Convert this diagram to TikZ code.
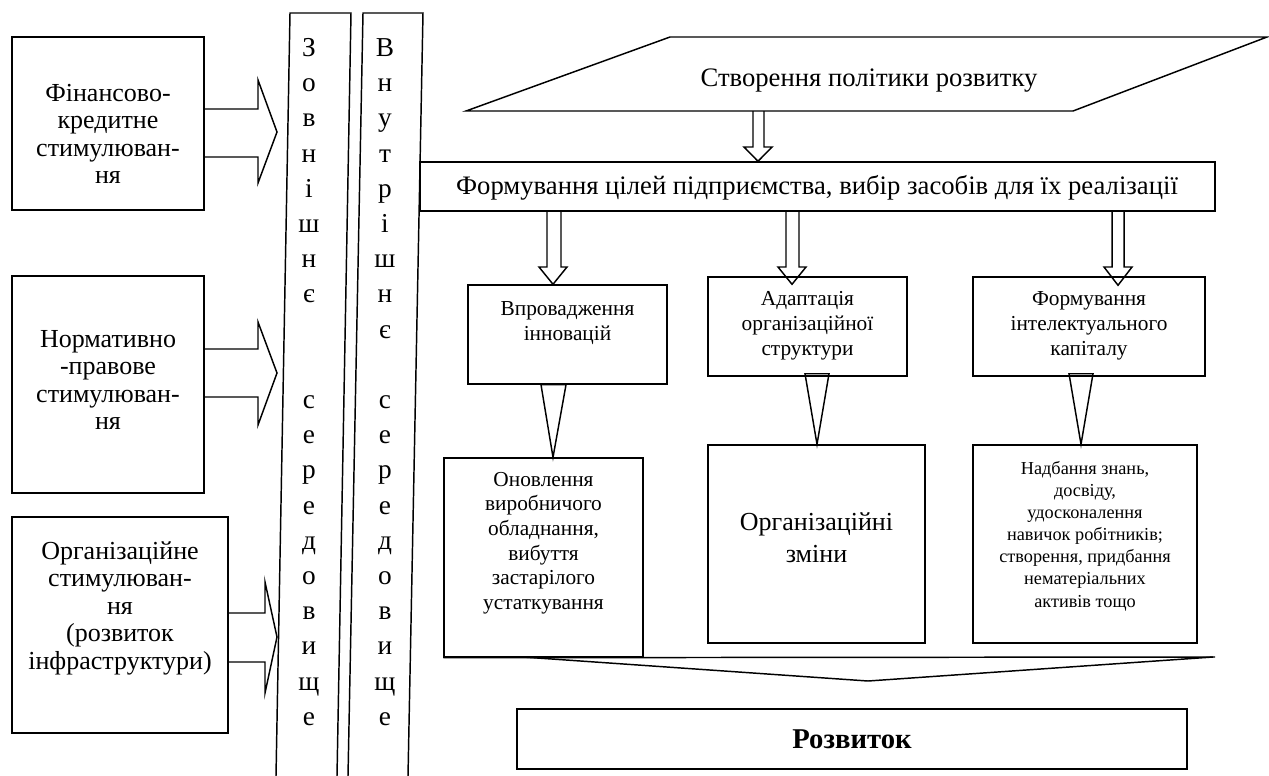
\documentclass[tikz,border=0pt]{standalone}
\usepackage{fontspec}
\setmainfont{Liberation Serif}
\usetikzlibrary{calc}

\begin{document}
\begin{tikzpicture}[x=0.75pt,y=0.75pt,yscale=-1,xscale=1,
  box/.style={draw, line width=1.1pt, inner sep=0pt},
  hollow/.style={draw, line width=1.1pt, line join=miter},
  txt/.style={align=center, inner sep=0.75pt},
  lefttxt/.style={txt, font=\fontsize{19.5}{20.6}\selectfont},
  midtxt/.style={txt, font=\fontsize{16}{18.75}\selectfont},
  striptxt/.style={align=center, inner sep=0pt, font=\fontsize{20.5}{26.4}\selectfont}]
\useasboundingbox (0,0) rectangle (1269,775);

%Strips
\draw[line width=1.1pt] (276,776) -- (290,13) -- (351,13) -- (337,776) ;
\draw[line width=1.1pt] (348,776) -- (363,13) -- (423,13) -- (408,776) ;
% Text Node
\node[striptxt] (ext) at (309,382) {З\\о\\в\\н\\і\\ш\\н\\є\\{}\\{}\\с\\е\\р\\е\\д\\о\\в\\и\\щ\\е};
\node[striptxt] (int) at (385,382) {В\\н\\у\\т\\р\\і\\ш\\н\\є\\{}\\с\\е\\р\\е\\д\\о\\в\\и\\щ\\е};

%Left boxes
\node[box, minimum width=144pt, minimum height=129.75pt] (fin) at (108,123.5) {};
\node[lefttxt] (fin-t) at (108,134) {Фінансово-\\кредитне\\стимулюван-\\ня};
\node[box, minimum width=144pt, minimum height=162.75pt] (norm) at (108,384.5) {};
\node[lefttxt] (norm-t) at (108,380) {Нормативно\\-правове\\стимулюван-\\ня};
\node[box, minimum width=162pt, minimum height=162pt] (org) at (120,625) {};
\node[lefttxt] (org-t) at (120,608) {Організаційне\\стимулюван-\\ня\\(розвиток\\інфраструктури)};

%Block arrows to the environment
\draw[hollow] (fin.east |- 0,109) -- (258,109) -- (258,80) -- (277,132) -- (258,183) -- (258,157) -- (fin.east |- 0,157) ;
\draw[hollow] (norm.east |- 0,349) -- (258,349) -- (258,322) -- (277,373) -- (258,425) -- (258,397) -- (norm.east |- 0,397) ;
\draw[hollow] (org.east |- 0,613) -- (265,613) -- (265,582) -- (277,637) -- (265,693) -- (265,662) -- (org.east |- 0,662) ;

%Policy
\draw[line width=1.1pt] (466,111) -- (670,37) -- (1267,37) -- (1073,111) -- cycle ;
\node[txt, font=\fontsize{20}{22}\selectfont] (policy) at (869,81) {Створення політики розвитку};
\coordinate (polbase) at (758,111);

%Goals
\node[box, minimum width=596.25pt, minimum height=36.75pt] (goal) at (817.5,186.5) {};
\node[txt, font=\fontsize{20}{22}\selectfont] (goal-t) at (817,188) {Формування цілей підприємства, вибір засобів для їх реалізації};
\draw[hollow] (753,0 |- polbase) -- (753,147) -- (744,147) -- (goal.north -| 758,0) -- (772,147) -- (764,147) -- (764,0 |- polbase) ;

%Directions
\node[box, minimum width=149.25pt, minimum height=74.25pt] (innov) at (567.5,334.5) {};
\node[midtxt] (innov-t) at (567.5,323) {Впровадження\\інновацій};
\node[box, minimum width=149.25pt, minimum height=74.25pt] (adapt) at (807.5,326.5) {};
\node[midtxt] (adapt-t) at (807.5,326) {Адаптація\\організаційної\\структури};
\node[box, minimum width=174pt, minimum height=74.25pt] (intel) at (1089,326.5) {};
\node[midtxt] (intel-t) at (1089,326) {Формування\\інтелектуального\\капіталу};

\draw[hollow] (goal.south -| 547,0) -- (547,267) -- (539,267) -- (innov.north -| 553,0) -- (567,267) -- (561,267) -- (goal.south -| 561,0) ;
\draw[hollow] (goal.south -| 786,0) -- (786,267) -- (778,267) -- ($(adapt.north -| 792,0)+(0,8)$) -- (806,267) -- (799,267) -- (goal.south -| 799,0) ;
\draw[hollow] (goal.south -| 1112,0) -- (1112,267) -- (1104,267) -- ($(intel.north -| 1118,0)+(0,9)$) -- (1132,267) -- (1124,267) -- (goal.south -| 1124,0) ;

%Results
\node[box, minimum width=149.25pt, minimum height=149.25pt] (upd) at (543.5,557.5) {};
\node[midtxt, font=\fontsize{16}{18.5}\selectfont] (upd-t) at (543.5,543) {Оновлення\\виробничого\\обладнання,\\вибуття\\застарілого\\устаткування};
\node[box, minimum width=162.75pt, minimum height=148.5pt] (orgch) at (816.5,544) {};
\node[txt, font=\fontsize{19.5}{24}\selectfont] (orgch-t) at (816.5,538) {Організаційні\\зміни};
\node[box, minimum width=168pt, minimum height=148.5pt] (know) at (1085,544) {};
\node[txt, font=\fontsize{13.7}{16.6}\selectfont] (know-t) at (1085,536) {Надбання знань,\\досвіду,\\удосконалення\\навичок робітників;\\створення, придбання\\нематеріальних\\активів тощо};

\draw[hollow] (innov.south -| 541,0) -- (upd.north -| 553,0) -- (innov.south -| 566,0) -- cycle ;
\draw[hollow] ($(adapt.south -| 805,0)+(0,-3)$) -- (orgch.north -| 817,0) -- ($(adapt.south -| 829,0)+(0,-3)$) -- cycle ;
\draw[hollow] ($(intel.south -| 1069,0)+(0,-3)$) -- (know.north -| 1081,0) -- ($(intel.south -| 1093,0)+(0,-3)$) -- cycle ;

%Development
\draw[line width=1.1pt] (upd.south west) -- (1215,657) ;
\coordinate (apex) at (868,681);
\draw[hollow] (523,657) -- (apex) -- (1213,657) ;
\node[box, minimum width=502.5pt, minimum height=45pt] (dev) at (852,739) {};
\node[txt, font=\bfseries\fontsize{21.5}{24}\selectfont] (dev-t) at (852,739) {Розвиток};

\end{tikzpicture}
\end{document}
